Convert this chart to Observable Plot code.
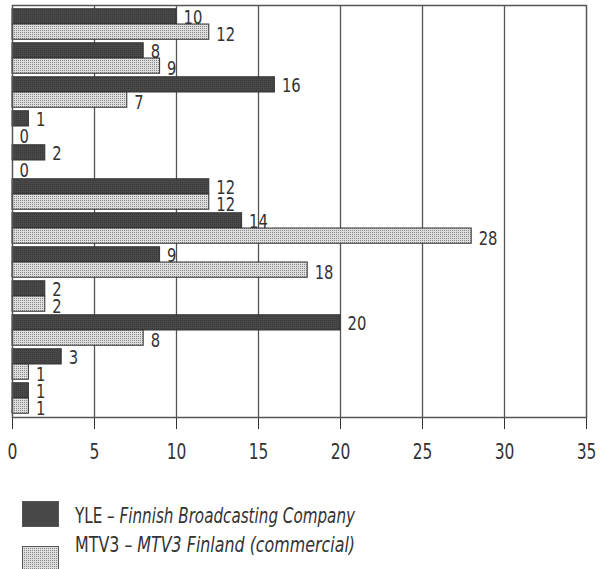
<!DOCTYPE html>
<html><head><meta charset="utf-8">
<script src="https://cdn.jsdelivr.net/npm/d3@7"></script>
<script src="https://cdn.jsdelivr.net/npm/@observablehq/plot@0.6"></script>
<style>
body{margin:0;background:#fff;font-family:"DejaVu Sans Condensed","DejaVu Sans",sans-serif;color:#333;overflow:hidden}
#legend{display:block}
</style></head><body>
<div id="chart"></div>
<svg id="legend" width="607" height="99"></svg>
<script>
const categories = ["A","B","C","D","E","F","G","H","I","J","K","L"];
const seriesNames = ["YLE","MTV3"];
const yleValues = [10,8,16,1,2,12,14,9,2,20,3,1];
const mtv3Values = [12,9,7,0,0,12,28,18,2,8,1,1];
const xTicks = [0,5,10,15,20,25,30,35];
const legendLabels = [["YLE – ","Finnish Broadcasting Company"],["MTV3 –  ","MTV3 Finland (commercial)"]];

const rows = [];
categories.forEach((c,i)=>{
  rows.push({cat:c, series:"YLE", key:c+"|YLE", value:yleValues[i]});
  rows.push({cat:c, series:"MTV3", key:c+"|MTV3", value:mtv3Values[i]});
});
const keys = rows.map(d=>d.key);
const yle = rows.filter(d=>d.series==="YLE");
const mtv = rows.filter(d=>d.series==="MTV3");

const FONT = '"DejaVu Sans Condensed","DejaVu Sans",sans-serif';
const chart = Plot.plot({
  width:607, height:470,
  marginTop:5, marginBottom:53, marginLeft:12, marginRight:21,
  style:{fontFamily:FONT, color:"#333", background:"#fff", fontSize:"21px"},
  x:{domain:[0,35], ticks:xTicks, tickSize:12, tickPadding:15, label:null, tickFormat:d=>String(d)},
  y:{domain:keys, padding:0, axis:null},
  marks:[
    Plot.ruleX(xTicks.filter(t=>t>0&&t<35), {stroke:"#555", strokeWidth:1.3}),
    Plot.barX(yle, {x:"value", y:"key", fill:"url(#ylePat)", stroke:"#333", strokeWidth:1, insetTop:1.75}),
    Plot.barX(mtv, {x:"value", y:"key", fill:"url(#mtvPat)", stroke:"#333", strokeWidth:1, insetBottom:1.75}),
    Plot.text(rows, {x:"value", y:"key", text:d=>String(d.value), textAnchor:"start", dx:7, dy:2, fontSize:20, fill:"#333", className:"barlabel"}),
    Plot.frame({stroke:"#555", strokeWidth:1.5})
  ]
});
const patDefs = (p)=>`<pattern id="${p}ylePat" width="2" height="2" patternUnits="userSpaceOnUse"><rect width="2" height="2" fill="#484848"/><rect width="1" height="1" fill="#3a3a3a"/></pattern>
<pattern id="${p}mtvPat" width="2" height="2" patternUnits="userSpaceOnUse"><rect width="2" height="2" fill="#dedede"/><rect width="1" height="1" fill="#888"/></pattern>`;
chart.insertAdjacentHTML("afterbegin", `<defs>${patDefs("")}</defs>`);
document.getElementById("chart").appendChild(chart);

function squeeze(t, k){
  const w = t.getComputedTextLength();
  if (w > 0) { t.setAttribute("textLength", (w*k).toFixed(1)); t.setAttribute("lengthAdjust","spacingAndGlyphs"); }
}
chart.querySelectorAll("text").forEach(t=>squeeze(t, 0.82));

// legend
const lg = d3.select("#legend");
lg.append("defs").html(patDefs("lg"));
const fills = ["#484848","url(#lgmtvPat)"];
const sqTop = [31, 76];
const baseY = [53, 82];
legendLabels.forEach((l,i)=>{
  lg.append("rect").attr("x",22.5).attr("y",sqTop[i]+0.5).attr("width",36).attr("height",25)
    .attr("fill",fills[i]).attr("stroke","#555");
  const t = lg.append("text").attr("x",75).attr("y",baseY[i]).attr("font-family",FONT)
    .attr("font-size",22).attr("fill","#333");
  t.append("tspan").text(l[0]);
  t.append("tspan").attr("font-style","italic").text(l[1]);
});
lg.selectAll("text").each(function(){ this.setAttribute("textLength",280); this.setAttribute("lengthAdjust","spacingAndGlyphs"); });
</script>
</body></html>
